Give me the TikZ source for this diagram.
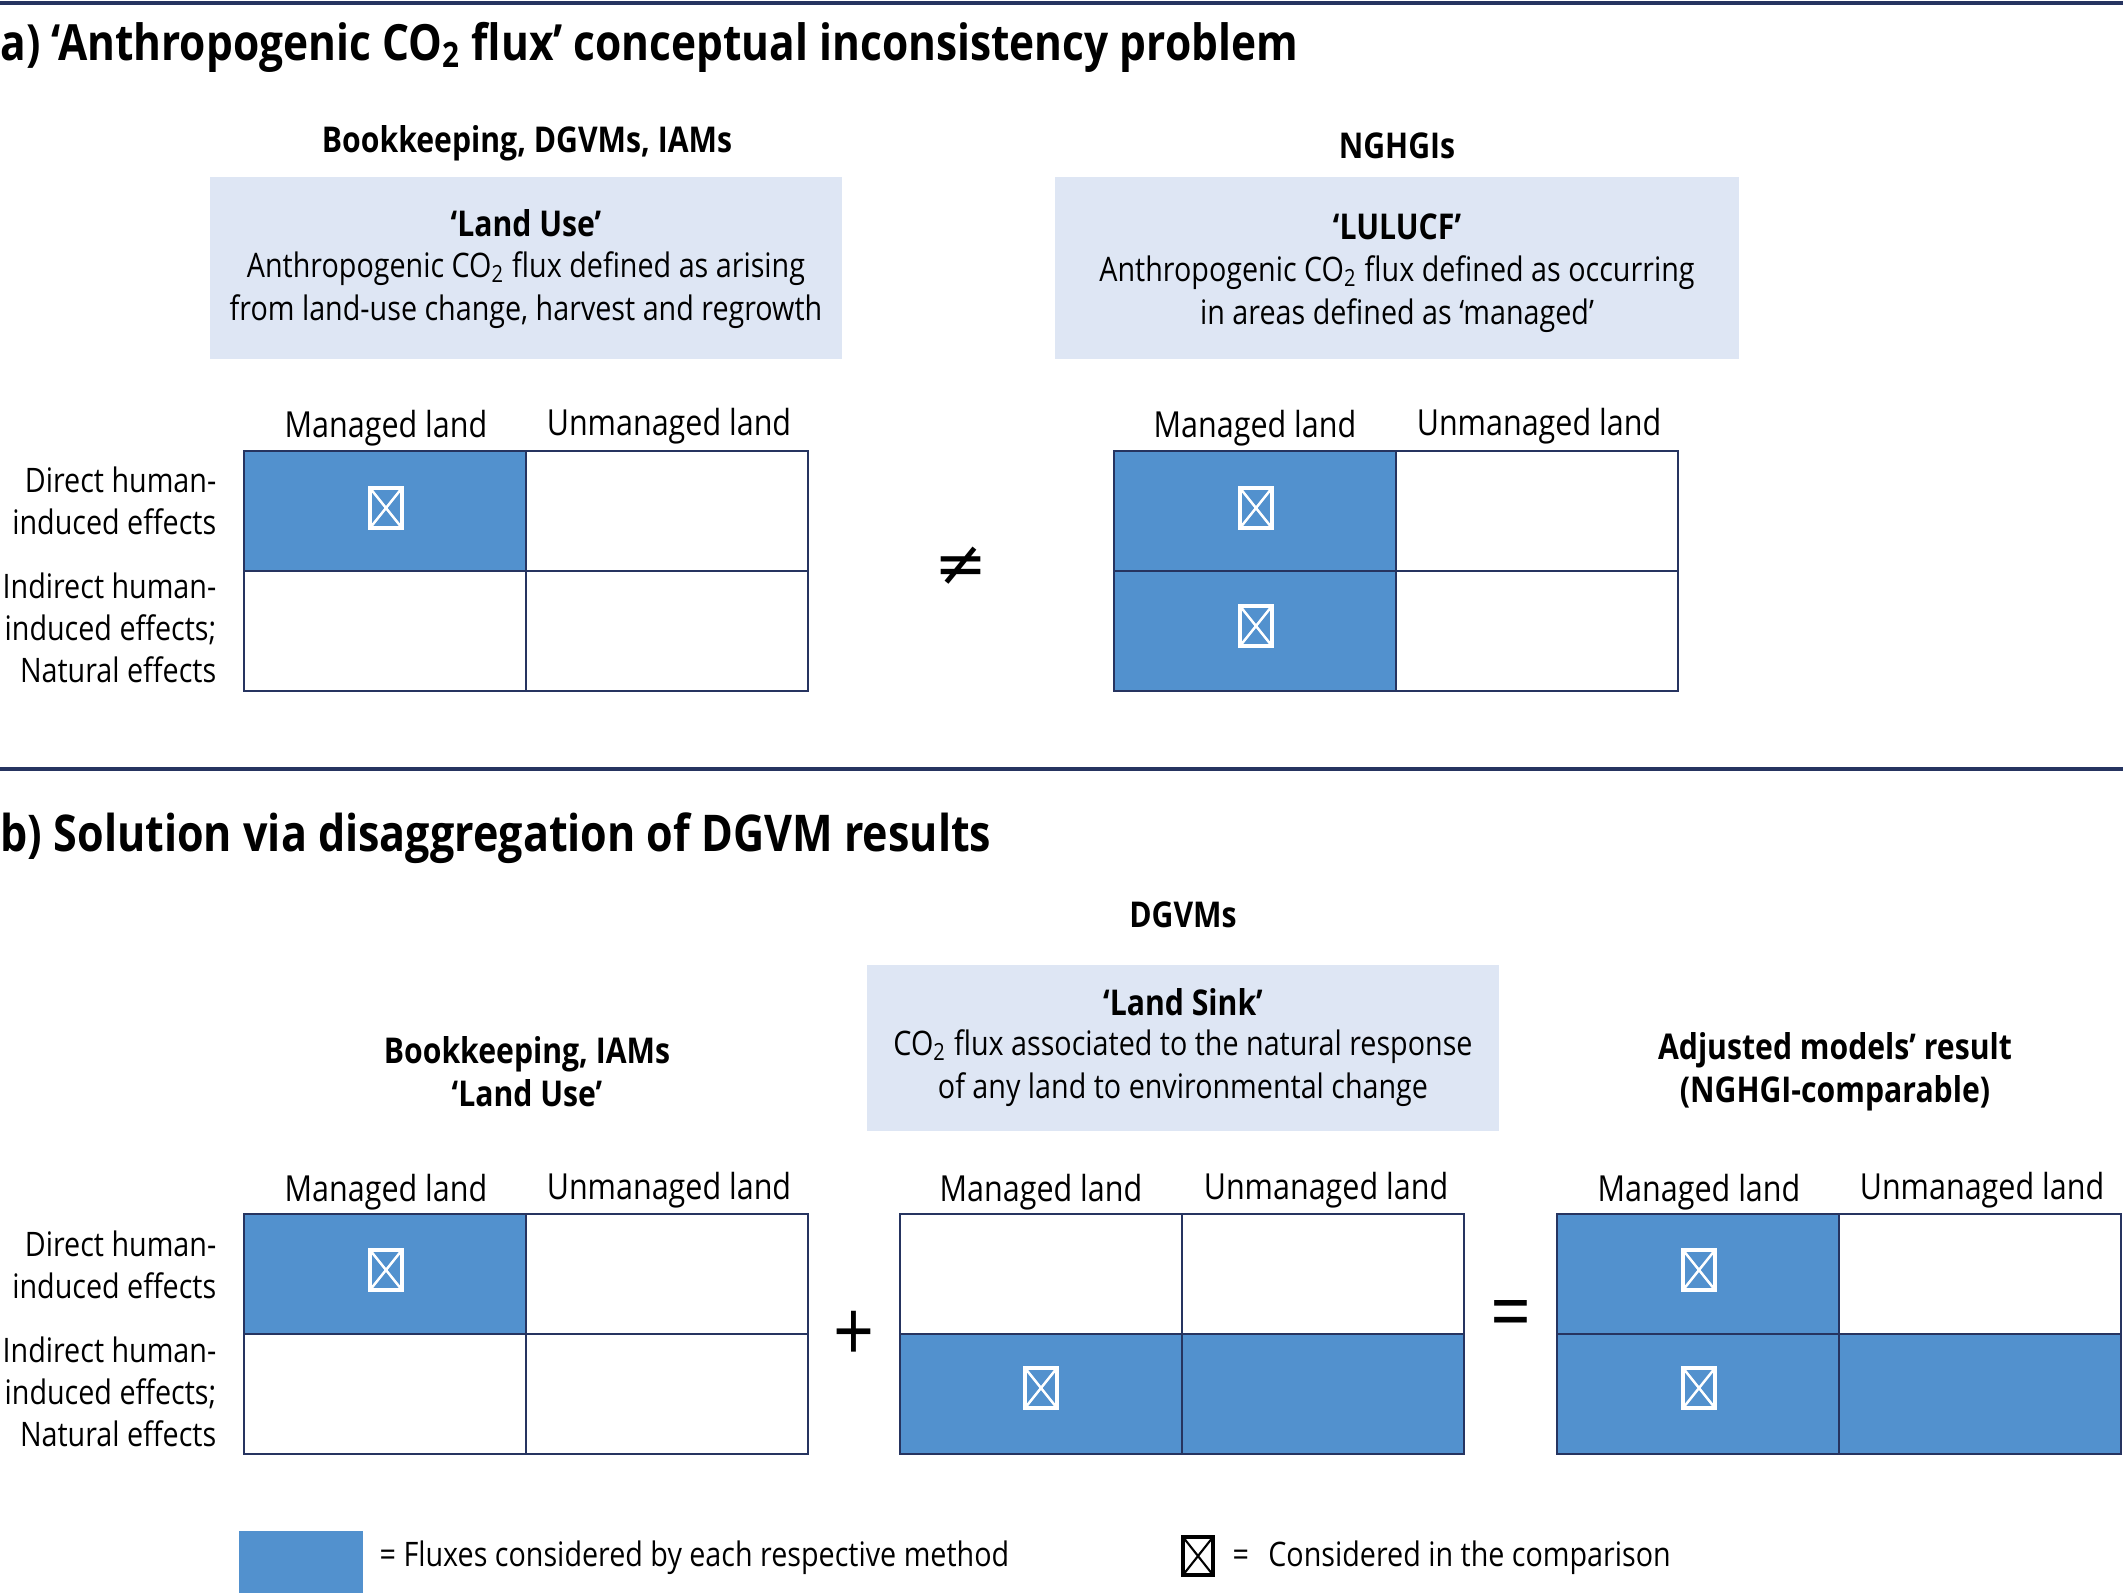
\documentclass[tikz,border=0pt]{standalone}
\usepackage{fontspec}
\setmainfont{Open Sans}[FakeStretch=0.85]
\newfontfamily\symfont{DejaVu Sans}
\definecolor{fluxblue}{RGB}{82,145,206}
\definecolor{boxblue}{RGB}{222,230,244}
\definecolor{gridnavy}{RGB}{38,52,96}

\tikzset{
  cell/.style={draw=gridnavy, line width=0.7pt, minimum width=2.82cm, minimum height=1.2cm, inner sep=0pt},
  flux/.style={cell, fill=fluxblue},
  xbox/.style={draw=white, line width=0.9pt, minimum width=0.32cm, minimum height=0.40cm, inner sep=0pt,
    path picture={\draw[white, line width=0.7pt] (path picture bounding box.north west) -- (path picture bounding box.south east)
      (path picture bounding box.north east) -- (path picture bounding box.south west);}},
  keybox/.style={xbox, draw=black, minimum width=0.30cm, minimum height=0.38cm,
    path picture={\draw[black, line width=0.6pt] (path picture bounding box.north west) -- (path picture bounding box.south east)
      (path picture bounding box.north east) -- (path picture bounding box.south west);}},
  note/.style={fill=boxblue, inner sep=0pt},
  body/.style={font=\fontsize{9.6}{12.3}\selectfont, align=center, inner sep=0pt},
  colhead/.style={font=\fontsize{10.2}{12.3}\selectfont, align=center, inner sep=0pt},
  head/.style={font=\bfseries\fontsize{10.1}{12.3}\selectfont, align=center, inner sep=0pt},
  rowlab/.style={font=\fontsize{9.6}{12}\selectfont, align=right, anchor=east, inner sep=0pt},
  title/.style={font=\bfseries\fontsize{14.2}{16}\selectfont, anchor=base west, inner sep=0pt},
  oper/.style={font=\fontsize{24}{24}\selectfont, inner sep=0pt},
  sep/.style={draw=gridnavy, line width=1.2pt}
}

\begin{document}
\begin{tikzpicture}[x=0.01cm, y=-0.01cm]
  \useasboundingbox (0,0) rectangle (2123,1593);

  % rules and titles
  \draw[sep] (0,3) -- (2123,3);
  \draw[sep] (0,769) -- (2123,769);
  \node[title] (ttl-a) at (0,60) {a) ‘Anthropogenic CO\textsubscript{2} flux’ conceptual inconsistency problem};
  \node[title, font=\bfseries\fontsize{14.4}{16}\selectfont] (ttl-b) at (0,851) {b) Solution via disaggregation of DGVM results};

  % part a, left
  \node[head] (hd-bk) at (527,143) {Bookkeeping, DGVMs, IAMs};
  \node[note, minimum width=6.32cm, minimum height=1.82cm] (lu-box) at (526,268) {};
  \node[head] (lu-name) at (526,223) {‘Land Use’};
  \node[body] (lu-txt) at (526,290) {Anthropogenic CO\textsubscript{2} flux defined as arising\\from land-use change, harvest and regrowth};

  \node[flux] (A1dm) at (385,511) {};
  \node[cell] (A1du) at (667,511) {};
  \node[cell] (A1im) at (385,631) {};
  \node[cell] (A1iu) at (667,631) {};
  \node[xbox] (A1x) at (386,508) {};
  \node[colhead] (A1m) at (386,428) {Managed land};
  \node[colhead] (A1u) at (669,426) {Unmanaged land};
  \node[rowlab] (A1r1) at (217,501) {Direct human-\\induced effects};
  \node[rowlab] (A1r2) at (217,628) {Indirect human-\\induced effects;\\Natural effects};

  \node[font=\symfont\fontsize{18}{18}\selectfont, inner sep=0pt] (neq) at (961,566) {≠};

  % part a, right
  \node[head] (hd-ng) at (1397,146) {NGHGIs};
  \node[note, minimum width=6.84cm, minimum height=1.82cm] (lc-box) at (1397,268) {};
  \node[head] (lc-name) at (1397,227) {‘LULUCF’};
  \node[body] (lc-txt) at (1397,294) {Anthropogenic CO\textsubscript{2} flux defined as occurring\\in areas defined as ‘managed’};

  \node[flux] (A2dm) at (1255,511) {};
  \node[cell] (A2du) at (1537,511) {};
  \node[flux] (A2im) at (1255,631) {};
  \node[cell] (A2iu) at (1537,631) {};
  \node[xbox] (A2x1) at (1256,508) {};
  \node[xbox] (A2x2) at (1256,626) {};
  \node[colhead] (A2m) at (1255,428) {Managed land};
  \node[colhead] (A2u) at (1539,426) {Unmanaged land};

  % part b, headings
  \node[head] (hd-dg) at (1183,915) {DGVMs};
  \node[note, minimum width=6.32cm, minimum height=1.66cm] (ls-box) at (1183,1048) {};
  \node[head] (ls-name) at (1183,1002) {‘Land Sink’};
  \node[body] (ls-txt) at (1183,1068) {CO\textsubscript{2} flux associated to the natural response\\of any land to environmental change};
  \node[head] (hd-bi) at (527,1072) {Bookkeeping, IAMs\\‘Land Use’};
  \node[head] (hd-adj) at (1835,1072) {Adjusted models’ result\\(NGHGI-comparable)};

  % part b, grids
  \node[flux] (B1dm) at (385,1274) {};
  \node[cell] (B1du) at (667,1274) {};
  \node[cell] (B1im) at (385,1394) {};
  \node[cell] (B1iu) at (667,1394) {};
  \node[xbox] (B1x) at (386,1270) {};
  \node[colhead] (B1m) at (386,1192) {Managed land};
  \node[colhead] (B1u) at (669,1190) {Unmanaged land};
  \node[rowlab] (B1r1) at (217,1265) {Direct human-\\induced effects};
  \node[rowlab] (B1r2) at (217,1392) {Indirect human-\\induced effects;\\Natural effects};

  \node[oper] (plus) at (854,1336) {+};

  \node[cell] (B2dm) at (1041,1274) {};
  \node[cell] (B2du) at (1323,1274) {};
  \node[flux] (B2im) at (1041,1394) {};
  \node[flux] (B2iu) at (1323,1394) {};
  \node[xbox] (B2x) at (1041,1388) {};
  \node[colhead] (B2m) at (1041,1192) {Managed land};
  \node[colhead] (B2u) at (1326,1190) {Unmanaged land};

  \node[oper] (eq) at (1511,1321) {=};

  \node[flux] (B3dm) at (1698,1274) {};
  \node[cell] (B3du) at (1980,1274) {};
  \node[flux] (B3im) at (1698,1394) {};
  \node[flux] (B3iu) at (1980,1394) {};
  \node[xbox] (B3x1) at (1699,1270) {};
  \node[xbox] (B3x2) at (1699,1388) {};
  \node[colhead] (B3m) at (1699,1192) {Managed land};
  \node[colhead] (B3u) at (1982,1190) {Unmanaged land};

  % legend
  \node[fill=fluxblue, minimum width=1.23cm, minimum height=0.62cm, inner sep=0pt] (key-flux) at (301,1562) {};
  \node[body, anchor=west] (key-flux-txt) at (379,1558) {= Fluxes considered by each respective method};
  \node[keybox] (key-x) at (1198,1556) {};
  \node[body, anchor=west] (key-x-txt) at (1232,1558) {=\hspace{0.35em} Considered in the comparison};
\end{tikzpicture}
\end{document}
